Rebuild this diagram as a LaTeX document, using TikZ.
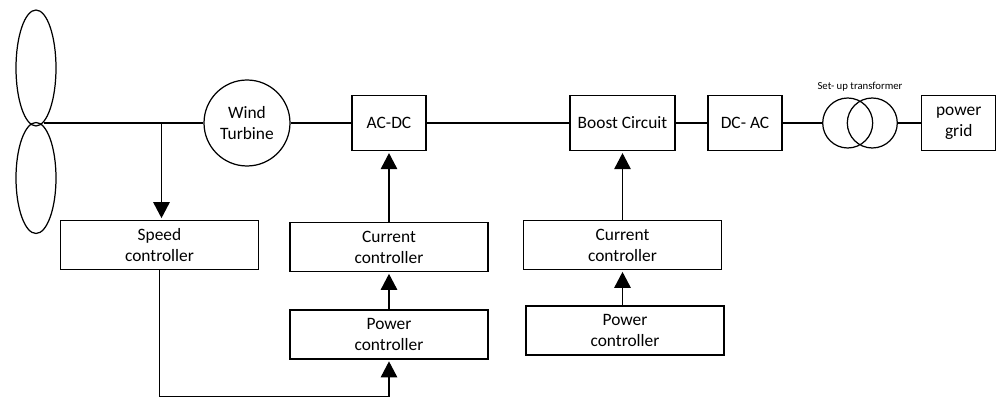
\documentclass[tikz,border=0pt]{standalone}
\usepackage{fontspec}
\setmainfont{Carlito}
\usetikzlibrary{arrows.meta, shapes.geometric}
\begin{document}
\begin{tikzpicture}[x=0.02cm, y=-0.02cm]
	\tikzset{boite/.style={rectangle, draw=black, line width=0.7pt, inner sep=0pt, align=center, font=\fontsize{9.9}{11.9}\selectfont},
		large/.style={boite, minimum width=3.96cm, minimum height=0.98cm},
		petit/.style={boite, minimum width=1.48cm, minimum height=1.11cm},
		pale/.style={ellipse, draw=black, line width=0.7pt, inner sep=0pt, minimum width=0.8cm},
		rond/.style={circle, draw=black, line width=0.7pt, inner sep=0pt},
		trait/.style={draw=black, line width=0.7pt},
		fleche/.style={trait, -{Triangle[length=0.32cm, width=0.33cm]}, shorten >=1pt}};

	\useasboundingbox (0,0) rectangle (997,398);

	\node[pale, minimum height=2.32cm] (pale1) at (  36,   68) {};
	\node[pale, minimum height=2.22cm] (pale2) at (  36,  178) {};
	\node[boite, circle, minimum width=1.72cm] (turbine) at ( 247,  123) {Wind\\Turbine};
	\node[petit] (acdc) at ( 389,  123) {AC-DC};
	\node[petit, minimum width=2.1cm] (boost) at ( 622.5,  123) {Boost Circuit};
	\node[petit] (dcac) at ( 745,  123) {DC- AC};
	\node[rond, minimum width=1cm] (trans1) at ( 847.7,  123) {};
	\node[rond, minimum width=1cm] (trans2) at ( 872.3,  123) {};
	\node[petit] (grid) at ( 958.7,  123) {power\\grid};

	\node[large] (speed) at ( 159.5,  245) {Speed\\controller};
	\node[large] (cur1) at ( 389,  247) {Current\\controller};
	\node[large] (pow1) at ( 389,  334.5) {Power\\controller};
	\node[large] (cur2) at ( 622.5,  245) {Current\\controller};
	\node[large] (pow2) at ( 625,  330.5) {Power\\controller};

	\node[font=\fontsize{6.1}{7}\selectfont, inner sep=0pt] (settrans) at ( 860,   87) {Set- up transformer};

	\coordinate (hub) at (  44,  123);
	\coordinate (tap) at ( 161.5,  123);
	\coordinate (coude) at ( 159.5,  396.5);

	\draw[trait] (hub) to (turbine);
	\draw[trait] (turbine) to (acdc);
	\draw[trait] (acdc) to (boost);
	\draw[trait] (boost) to (dcac);
	\draw[trait] (dcac) to (trans1);
	\draw[trait] (trans2) to (grid);

	\draw[fleche] (tap) to (tap |- speed.north);
	\draw[fleche] (speed.south) -- (coude) -| (pow1.south);
	\draw[fleche] (pow1) to (cur1);
	\draw[fleche] (cur1) to (acdc);
	\draw[fleche] (pow2.north -| cur2.north) to (cur2);
	\draw[fleche] (cur2) to (boost);
\end{tikzpicture}
\end{document}
